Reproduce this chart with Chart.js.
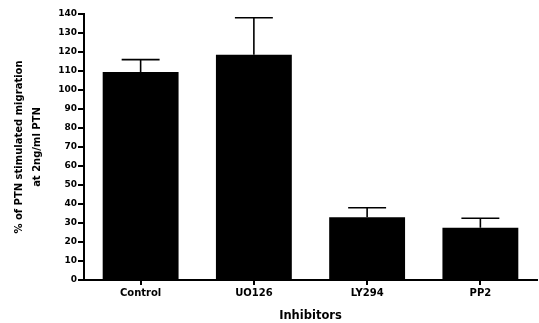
<!DOCTYPE html>
<html><head><meta charset="utf-8">
<script src="https://cdn.jsdelivr.net/npm/chart.js@4/dist/chart.umd.min.js"></script>
<style>html,body{margin:0;padding:0;background:#fff}#wrap{width:539px;height:323px}</style>
</head><body><div id="wrap"><canvas id="c" width="539" height="323"></canvas></div>
<script>
const categories = ["Control", "UO126", "LY294", "PP2"];
const values = [109.5, 118.5, 33, 27.5];
const errorTops = [116, 138, 38, 32.5];
const yTicks = [0,10,20,30,40,50,60,70,80,90,100,110,120,130,140];

const errorBars = {
  id: 'errorBars',
  afterDatasetsDraw(chart) {
    const ctx = chart.ctx, meta = chart.getDatasetMeta(0), ys = chart.scales.y;
    ctx.save();
    ctx.strokeStyle = '#000';
    ctx.lineWidth = 1.6;
    meta.data.forEach((bar, i) => {
      const yTop = ys.getPixelForValue(errorTops[i]);
      const half = bar.width / 4;
      ctx.beginPath();
      ctx.moveTo(bar.x, bar.y);
      ctx.lineTo(bar.x, yTop);
      ctx.moveTo(bar.x - half, yTop);
      ctx.lineTo(bar.x + half, yTop);
      ctx.stroke();
    });
    ctx.restore();
  }
};

const F = 'DejaVu Sans';
new Chart(document.getElementById('c'), {
  type: 'bar',
  data: { labels: categories, datasets: [{ data: values, backgroundColor: '#000', borderWidth: 0, barPercentage: 0.67, categoryPercentage: 1 }] },
  options: {
    responsive: false, animation: false,
    layout: { padding: { left: 0, right: 2, top: 14, bottom: 0 } },
    plugins: { legend: { display: false }, tooltip: { enabled: false } },
    scales: {
      x: {
        grid: { display: true, drawOnChartArea: false, offset: false, tickLength: 5, tickColor: '#000', lineWidth: 2 },
        border: { display: true, color: '#000', width: 2 },
        ticks: { color: '#000', font: { family: F, weight: 'bold', size: 10 }, padding: 2 },
        title: { display: true, text: 'Inhibitors', color: '#000', font: { family: F, weight: 'bold', size: 11.5 }, padding: { top: 4, bottom: 0 } },
        afterFit(s) { s.height = 43; }
      },
      y: {
        min: 0, max: 140,
        afterBuildTicks(s) { s.ticks = yTicks.map(v => ({ value: v })); },
        grid: { display: true, drawOnChartArea: false, tickLength: 6, tickColor: '#000', lineWidth: 2 },
        border: { display: true, color: '#000', width: 2 },
        ticks: { color: '#000', font: { family: F, weight: 'bold', size: 9 }, padding: 1 },
        title: { display: true, text: ['% of PTN stimulated migration', 'at 2ng/ml PTN'], color: '#000', font: { family: F, weight: 'bold', size: 10, lineHeight: 1.8 }, padding: { top: 10, bottom: 0 } },
        afterFit(s) { s.width = 84; }
      }
    }
  },
  plugins: [errorBars]
});
</script></body></html>
